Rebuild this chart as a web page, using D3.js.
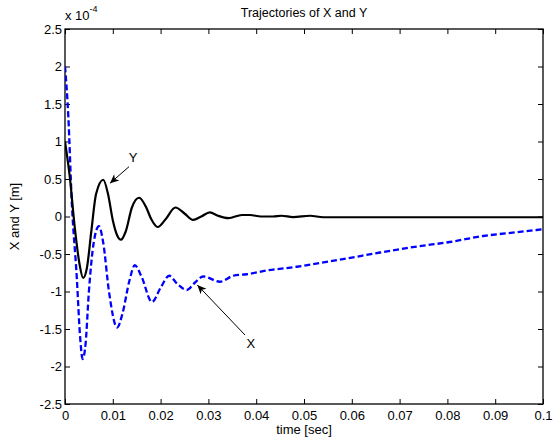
<!DOCTYPE html>
<html>
<head>
<meta charset="utf-8">
<script src="https://cdn.jsdelivr.net/npm/d3@7"></script>
<style>
  html, body { margin: 0; padding: 0; background: #fff; }
  svg { display: block; font-family: "Liberation Sans", Arial, sans-serif; }
</style>
</head>
<body>
<svg id="chart" width="556" height="448"></svg>
<script>
// ---- data (values in units of 1e-4 m) ----
const tY = [0, 0.001, 0.002, 0.003, 0.0038, 0.0046, 0.0055, 0.0065, 0.008, 0.009, 0.010, 0.0109, 0.0117, 0.0127, 0.014, 0.0155, 0.017, 0.018, 0.0194, 0.021, 0.0231, 0.025, 0.0268, 0.0285, 0.0303, 0.032, 0.0342, 0.037, 0.0387, 0.041, 0.0435, 0.0453, 0.0477, 0.0513, 0.054, 0.06, 0.07, 0.08, 0.09, 0.1];
const Yvals = [1.0, 0.53, -0.12, -0.62, -0.82, -0.68, -0.2, 0.3, 0.49, 0.3, -0.05, -0.25, -0.31, -0.2, 0.12, 0.25, 0.12, -0.03, -0.14, -0.04, 0.12, 0.04, -0.045, 0.0, 0.055, 0.01, -0.022, 0.02, 0.02, 0.0, 0.0, 0.01, -0.007, 0.01, -0.01, -0.01, -0.01, -0.01, -0.01, -0.01];

const tX = [0, 0.0007, 0.0014, 0.0025, 0.0031, 0.0037, 0.0043, 0.005, 0.006, 0.0071, 0.008, 0.0092, 0.0109, 0.012, 0.0135, 0.0146, 0.016, 0.0182, 0.020, 0.0218, 0.0235, 0.0255, 0.0272, 0.0289, 0.0324, 0.0352, 0.038, 0.0422, 0.0485, 0.0533, 0.0589, 0.0659, 0.0736, 0.0805, 0.0875, 0.0945, 0.1];
const Xvals = [2.0, 1.33, 0.22, -0.85, -1.55, -1.9, -1.7, -1.0, -0.35, -0.13, -0.35, -1.0, -1.48, -1.3, -0.85, -0.65, -0.8, -1.14, -0.95, -0.79, -0.9, -0.98, -0.88, -0.80, -0.87, -0.79, -0.77, -0.72, -0.67, -0.62, -0.56, -0.48, -0.40, -0.34, -0.26, -0.21, -0.17];

const xTicks = [0, 0.01, 0.02, 0.03, 0.04, 0.05, 0.06, 0.07, 0.08, 0.09, 0.1];
const xTickLabels = ["0", "0.01", "0.02", "0.03", "0.04", "0.05", "0.06", "0.07", "0.08", "0.09", "0.1"];
const yTicks = [-2.5, -2, -1.5, -1, -0.5, 0, 0.5, 1, 1.5, 2, 2.5];
const yTickLabels = ["-2.5", "-2", "-1.5", "-1", "-0.5", "0", "0.5", "1", "1.5", "2", "2.5"];

// annotations: label, text position, arrow start, arrow end (data units)
const annLabels = ["Y", "X"];
const annText = [[0.01423, 0.79], [0.0389, -1.687]];
const annFrom = [[0.01339, 0.664], [0.03766, -1.58]];
const annTo = [[0.00941, 0.443], [0.02768, -0.913]];

const titleText = "Trajectories of X and Y";
const xLabel = "time [sec]";
const yLabel = "X and Y [m]";

// ---- drawing ----
const svg = d3.select("#chart");
const L = 65, R = 543, T = 29, B = 404;
const x = d3.scaleLinear().domain([0, 0.1]).range([L, R]);
const y = d3.scaleLinear().domain([-2.5, 2.5]).range([B, T]);

const defs = svg.append("defs");
defs.append("marker")
  .attr("id", "arrow").attr("viewBox", "-10 -5 12 10")
  .attr("refX", 0).attr("refY", 0)
  .attr("markerWidth", 12).attr("markerHeight", 10)
  .attr("markerUnits", "userSpaceOnUse")
  .attr("orient", "auto")
  .append("path").attr("d", "M0,0 L-9,-4 L-6.5,0 L-9,4 Z").attr("fill", "#000");

defs.append("clipPath").attr("id", "clip")
  .append("rect").attr("x", L).attr("y", T).attr("width", R - L).attr("height", B - T);

// axes
const fmtX = (d, i) => xTickLabels[i];
const fmtY = (d, i) => yTickLabels[i];
const styleAxis = g => {
  g.select(".domain").remove();
  g.selectAll(".tick line").attr("stroke", "#000").attr("stroke-width", 1);
  g.selectAll("text").attr("fill", "#000").attr("font-size", 13)
    .attr("font-family", "'Liberation Sans', Arial, sans-serif");
};
svg.append("g").attr("transform", `translate(0,${B})`)
  .call(d3.axisBottom(x).tickValues(xTicks).tickFormat(fmtX).tickSizeInner(-5).tickSizeOuter(0).tickPadding(7))
  .call(styleAxis);
svg.append("g").attr("transform", `translate(0,${T})`)
  .call(d3.axisTop(x).tickValues(xTicks).tickFormat("").tickSizeInner(-5).tickSizeOuter(0))
  .call(styleAxis);
svg.append("g").attr("transform", `translate(${L},0)`)
  .call(d3.axisLeft(y).tickValues(yTicks).tickFormat(fmtY).tickSizeInner(-5).tickSizeOuter(0).tickPadding(3))
  .call(styleAxis);
svg.append("g").attr("transform", `translate(${R},0)`)
  .call(d3.axisRight(y).tickValues(yTicks).tickFormat("").tickSizeInner(-5).tickSizeOuter(0))
  .call(styleAxis);

// box
svg.append("rect").attr("x", L).attr("y", T).attr("width", R - L).attr("height", B - T)
  .attr("fill", "none").attr("stroke", "#000").attr("stroke-width", 1.3);

// lines
const line = d3.line().x(d => x(d[0])).y(d => y(d[1])).curve(d3.curveMonotoneX);
const plot = svg.append("g").attr("clip-path", "url(#clip)");
plot.append("path").datum(tX.map((t, i) => [t, Xvals[i]]))
  .attr("d", line).attr("fill", "none").attr("stroke", "#0000ff")
  .attr("stroke-width", 2.3).attr("stroke-dasharray", "6,3");
plot.append("path").datum(tY.map((t, i) => [t, Yvals[i]]))
  .attr("d", line).attr("fill", "none").attr("stroke", "#000")
  .attr("stroke-width", 2.2);

// annotations
annLabels.forEach((lab, i) => {
  svg.append("line")
    .attr("x1", x(annFrom[i][0])).attr("y1", y(annFrom[i][1]))
    .attr("x2", x(annTo[i][0])).attr("y2", y(annTo[i][1]))
    .attr("stroke", "#000").attr("stroke-width", 1)
    .attr("marker-end", "url(#arrow)");
  svg.append("text").attr("x", x(annText[i][0])).attr("y", y(annText[i][1]))
    .attr("text-anchor", "middle").attr("dy", "0.35em")
    .attr("font-size", 13).attr("fill", "#000").text(lab);
});

// exponent label
const ex = svg.append("text").attr("x", L).attr("y", 20).attr("font-size", 13).attr("fill", "#000");
ex.append("tspan").text("x 10");
ex.append("tspan").attr("dy", -8).attr("font-size", 9).text("-4");

// title and axis labels
svg.append("text").attr("x", (L + R) / 2).attr("y", 17).attr("text-anchor", "middle")
  .attr("font-size", 12.5).attr("fill", "#000").text(titleText);
svg.append("text").attr("x", (L + R) / 2).attr("y", 434).attr("text-anchor", "middle")
  .attr("font-size", 13).attr("fill", "#000").text(xLabel);
svg.append("text").attr("transform", `translate(19,${(T + B) / 2}) rotate(-90)`)
  .attr("text-anchor", "middle").attr("font-size", 13).attr("fill", "#000").text(yLabel);
</script>
</body>
</html>
